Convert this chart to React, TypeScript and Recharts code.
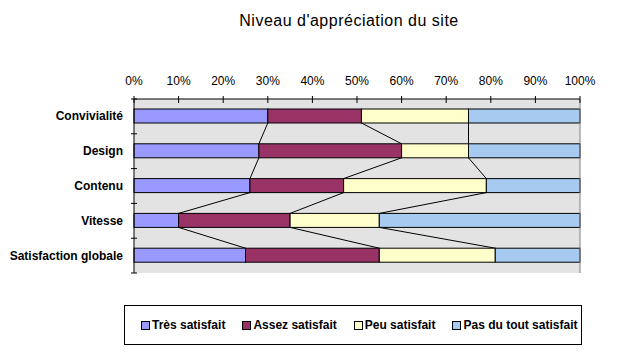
import { BarChart, Bar, XAxis, YAxis, CartesianGrid, ReferenceLine } from 'recharts';

const CATEGORIES = ['Convivialité', 'Design', 'Contenu', 'Vitesse', 'Satisfaction globale'];
const SERIES = ['Très satisfait', 'Assez satisfait', 'Peu satisfait', 'Pas du tout satisfait'];
const TRES = [30, 28, 26, 10, 25];
const ASSEZ = [21, 32, 21, 25, 30];
const PEU = [24, 15, 32, 20, 26];
const PAS = [25, 25, 21, 45, 19];
const X_TICKS = [0, 10, 20, 30, 40, 50, 60, 70, 80, 90, 100];

const SERIES_VALUES = [TRES, ASSEZ, PEU, PAS];
const COLORS = ['#9999FF', '#993366', '#FFFFCC', '#A6CAF0'];
const FONT = '"Liberation Sans", Arial, sans-serif';

const W = 628;
const H = 357;
const PLOT_LEFT = 134;
const PLOT_TOP = 99;
const PLOT_RIGHT = 580;
const PLOT_BOTTOM = 273;
const X_AXIS_H = 30;
const Y_AXIS_W = 130;
const BAND = (PLOT_BOTTOM - PLOT_TOP) / CATEGORIES.length;

const data = CATEGORIES.map((name, i) => {
  const row: Record<string, string | number> = { name };
  SERIES.forEach((s, k) => {
    row[s] = SERIES_VALUES[k][i];
  });
  return row;
});

const cumulative = (k: number, i: number) => {
  let sum = 0;
  for (let j = 0; j <= k; j++) sum += SERIES_VALUES[j][i];
  return sum;
};

// bar segment + Excel style series line to the next category
const makeShape = (k: number) => (props: any) => {
  const { x, y, width, height, index, fill } = props;
  const value = SERIES_VALUES[k][index];
  let line = null;
  if (k < SERIES.length - 1 && index < CATEGORIES.length - 1 && value > 0) {
    const ppu = width / value;
    const end = x + width;
    const origin = end - cumulative(k, index) * ppu;
    const nextEnd = origin + cumulative(k, index + 1) * ppu;
    line = <line x1={end} y1={y + height} x2={nextEnd} y2={y + BAND} stroke="#000" strokeWidth={1} />;
  }
  return (
    <g>
      <rect x={x} y={y} width={width} height={height} fill={fill} stroke="#000" strokeWidth={1} />
      {line}
    </g>
  );
};

const XTick = (props: any) => {
  const { x, payload } = props;
  return (
    <g>
      <line x1={x} x2={x} y1={PLOT_TOP - 3} y2={PLOT_TOP + 4} stroke="#000" />
      <text x={x} y={PLOT_TOP - 14} textAnchor="middle" fontSize={12} fontFamily={FONT} fill="#000">
        {payload.value}%
      </text>
    </g>
  );
};

const YTick = (props: any) => {
  const { y, payload, index } = props;
  return (
    <g>
      <text x={PLOT_LEFT - 11} y={y} dy={4} textAnchor="end" fontSize={12} fontWeight="bold" fontFamily={FONT} fill="#000">
        {payload.value}
      </text>
      <line x1={PLOT_LEFT - 3} x2={PLOT_LEFT + 3} y1={y - BAND / 2} y2={y - BAND / 2} stroke="#000" />
      {index === CATEGORIES.length - 1 && (
        <line x1={PLOT_LEFT - 3} x2={PLOT_LEFT + 3} y1={y + BAND / 2} y2={y + BAND / 2} stroke="#000" />
      )}
    </g>
  );
};

export default function App() {
  return (
    <div style={{ position: 'absolute', left: 0, top: 0, width: W, height: H, background: '#fff', fontFamily: FONT }}>
      <div
        style={{
          position: 'absolute',
          left: 0,
          top: 12,
          width: 698,
          textAlign: 'center',
          fontSize: 16,
          lineHeight: '17px',
          letterSpacing: 0.5,
          color: '#000',
        }}
      >
        Niveau d'appréciation du site
      </div>
      <div style={{ position: 'absolute', left: 0, top: 0 }}>
        <BarChart
          width={W}
          height={H}
          data={data}
          layout="vertical"
          barSize={14}
          margin={{
            top: PLOT_TOP - X_AXIS_H,
            right: W - PLOT_RIGHT,
            bottom: H - PLOT_BOTTOM,
            left: PLOT_LEFT - Y_AXIS_W,
          }}
        >
          <CartesianGrid fill="#E3E3E3" stroke="none" horizontal={false} vertical={false} />
          <XAxis
            type="number"
            orientation="top"
            domain={[0, 100]}
            ticks={X_TICKS}
            height={X_AXIS_H}
            axisLine={{ stroke: '#000' }}
            tickLine={false}
            tick={<XTick />}
            interval={0}
          />
          <XAxis
            xAxisId="bottom"
            type="number"
            orientation="bottom"
            domain={[0, 100]}
            height={0}
            tick={false}
            tickLine={false}
            axisLine={{ stroke: '#808080' }}
          />
          <YAxis
            type="category"
            dataKey="name"
            width={Y_AXIS_W}
            axisLine={{ stroke: '#000' }}
            tickLine={false}
            tick={<YTick />}
            interval={0}
          />
          <ReferenceLine x={100} stroke="#808080" />
          {SERIES.map((s, k) => (
            <Bar key={s} dataKey={s} stackId="a" fill={COLORS[k]} isAnimationActive={false} shape={makeShape(k)} />
          ))}
        </BarChart>
      </div>
      <div
        style={{
          position: 'absolute',
          left: 124,
          top: 305,
          width: 458,
          height: 40,
          boxSizing: 'border-box',
          border: '1px solid #000',
          display: 'flex',
          alignItems: 'center',
          paddingLeft: 16,
          gap: 17,
          fontSize: 12,
          fontWeight: 'bold',
          color: '#000',
        }}
      >
        {SERIES.map((s, k) => (
          <div key={s} style={{ display: 'flex', alignItems: 'center', gap: 2 }}>
            <span
              style={{
                display: 'inline-block',
                width: 9,
                height: 9,
                boxSizing: 'border-box',
                border: '1px solid #000',
                background: COLORS[k],
              }}
            />
            <span>{s}</span>
          </div>
        ))}
      </div>
    </div>
  );
}
